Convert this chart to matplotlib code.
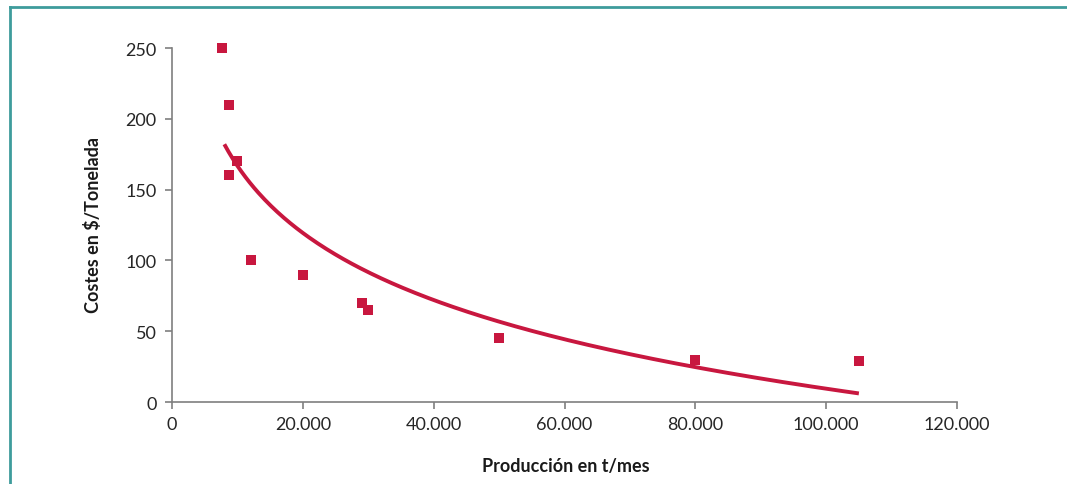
import numpy as np
import matplotlib
matplotlib.use("Agg")
import matplotlib.pyplot as plt
from matplotlib.ticker import FuncFormatter
from matplotlib.lines import Line2D

# Data
produccion = [7600, 8700, 10000, 8700, 12000, 20000, 29000, 30000, 50000, 80000, 105000]
costes = [250, 210, 170, 160, 100, 90, 70, 65, 45, 30, 29]
# Logarithmic trend line: y = a + b*ln(x)
trend_a = 796.3
trend_b = -68.35
trend_range = [8000, 105000]
x_ticks = [0, 20000, 40000, 60000, 80000, 100000, 120000]
y_ticks = [0, 50, 100, 150, 200, 250]

red = "#C8173F"
gray = "#7F7F7F"

plt.rcParams['font.family'] = ['Lato', 'DejaVu Sans']

fig = plt.figure(figsize=(10.67, 4.85), dpi=100)
ax = fig.add_axes([172/1067, 1-403/485, (957-172)/1067, (403-49)/485])

xt = np.linspace(trend_range[0], trend_range[1], 300)
ax.plot(xt, trend_a + trend_b*np.log(xt), color=red, lw=2.8, solid_capstyle='butt', zorder=2)

ax.scatter(produccion, costes, marker='s', s=55, color=red, linewidths=0, zorder=3, clip_on=False)

ax.set_xlim(0, 120000)
ax.set_ylim(0, 250)
ax.set_xticks(x_ticks)
ax.set_yticks(y_ticks)

def fmt(v, pos):
    return f"{int(v):,}".replace(",", ".")
ax.xaxis.set_major_formatter(FuncFormatter(fmt))

for s in ['top', 'right']:
    ax.spines[s].set_visible(False)
for s in ['left', 'bottom']:
    ax.spines[s].set_color(gray)
    ax.spines[s].set_linewidth(1.2)
ax.tick_params(axis='both', colors=gray, labelcolor='#262626', labelsize=13, length=5, width=1.2)
ax.tick_params(axis='y', pad=6)
ax.tick_params(axis='x', pad=5)

fig.text(566/1067, 1-467/485, "Producción en t/mes", ha='center', va='center',
         fontsize=13, fontweight='bold', color='#1a1a1a')
fig.text(93/1067, 1-225/485, "Costes en $/Tonelada", ha='center', va='center',
         rotation=90, fontsize=13, fontweight='bold', color='#1a1a1a')

# Teal frame (top and left edges)
teal = "#3E9C9C"
fig.add_artist(Line2D([10/1067, 1.0], [1-8/485, 1-8/485], transform=fig.transFigure, color=teal, lw=2))
fig.add_artist(Line2D([10/1067, 10/1067], [1-8/485, 0], transform=fig.transFigure, color=teal, lw=2))

fig.savefig("out.png", dpi=100)
